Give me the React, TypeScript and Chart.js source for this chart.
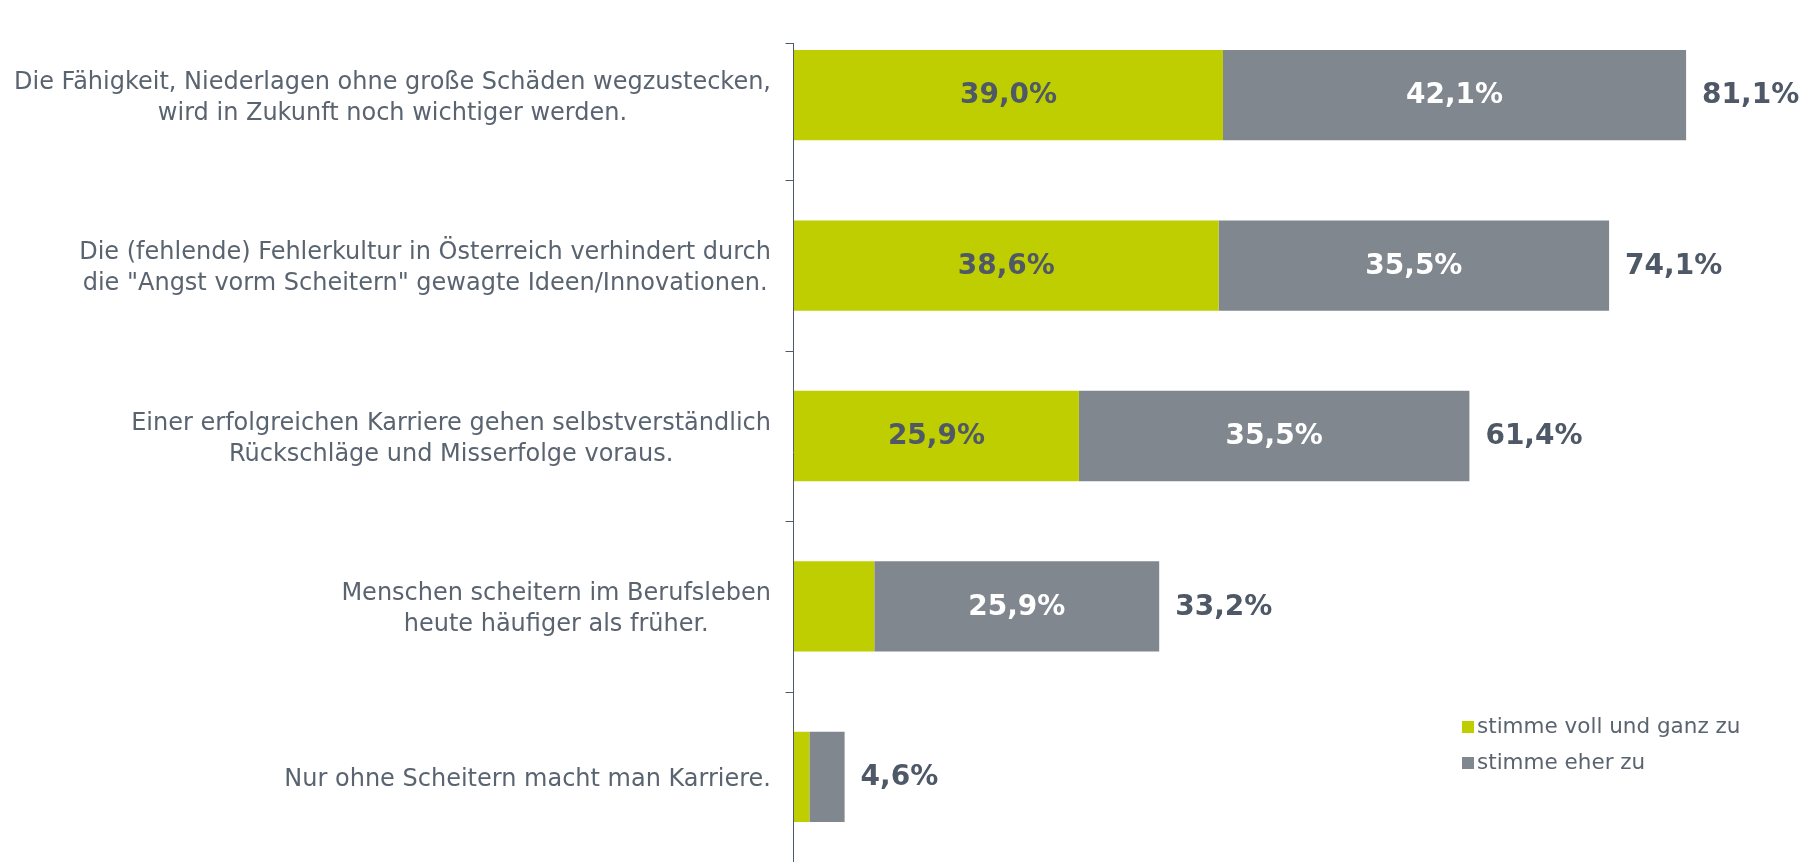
import React, { useEffect, useRef } from "react";
import { Chart, registerables } from "chart.js";

Chart.register(...registerables);

// ---- data ----
const categories: string[][] = [
  ["Die Fähigkeit, Niederlagen ohne große Schäden wegzustecken,", "wird in Zukunft noch wichtiger werden."],
  ["Die (fehlende) Fehlerkultur in Österreich verhindert durch", "die \"Angst vorm Scheitern\" gewagte Ideen/Innovationen."],
  ["Einer erfolgreichen Karriere gehen selbstverständlich", "Rückschläge und Misserfolge voraus."],
  ["Menschen scheitern im Berufsleben", "heute häufiger als früher."],
  ["Nur ohne Scheitern macht man Karriere."],
];
const seriesNames = ["stimme voll und ganz zu", "stimme eher zu"];
const fullyAgree = [39.0, 38.6, 25.9, 7.3, 1.4];
const ratherAgree = [42.1, 35.5, 35.5, 25.9, 3.2];
const totals = [81.1, 74.1, 61.4, 33.2, 4.6];

// ---- style ----
const GREEN = "#bfce00";
const GREY = "#80878f";
const TEXT = "#5a6470";
const DARK = "#4e5866";
const AXIS = "#4f5b6b";
const FONT = "'DejaVu Sans', Verdana, sans-serif";
const W = 1817;
const H = 862;

const fmt = (v: number) => v.toFixed(1).replace(".", ",") + "%";

const overlay = {
  id: "overlay",
  afterDatasetsDraw(chart: any) {
    const { ctx, chartArea, scales } = chart;
    const y = scales.y;
    ctx.save();

    // axis line + ticks
    const ax = Math.round(chartArea.left) - 0.5;
    const axisTop = 43;
    ctx.strokeStyle = AXIS;
    ctx.lineWidth = 1;
    ctx.beginPath();
    ctx.moveTo(ax, axisTop);
    ctx.lineTo(ax, H);
    ctx.moveTo(ax - 8, axisTop + 0.5);
    ctx.lineTo(ax, axisTop + 0.5);
    for (let i = 0; i < categories.length - 1; i++) {
      const b = Math.round((y.getPixelForValue(i) + y.getPixelForValue(i + 1)) / 2) + 0.5;
      ctx.moveTo(ax - 8, b);
      ctx.lineTo(ax, b);
    }
    ctx.stroke();

    // category labels: block right-aligned, lines centered
    ctx.font = `24px ${FONT}`;
    ctx.fillStyle = TEXT;
    ctx.textBaseline = "middle";
    ctx.textAlign = "center";
    const lh = 31;
    const rightEdge = chartArea.left - 23;
    categories.forEach((lines, i) => {
      const cy = y.getPixelForValue(i) + 3;
      const bw = Math.max(...lines.map((l) => ctx.measureText(l).width));
      const cx = rightEdge - bw / 2;
      lines.forEach((l, j) => {
        ctx.fillText(l, cx, cy + (j - (lines.length - 1) / 2) * lh);
      });
    });

    // segment labels
    ctx.font = `bold 28px ${FONT}`;
    ctx.textAlign = "center";
    const colors = [DARK, "#ffffff"];
    chart.data.datasets.forEach((ds: any, di: number) => {
      const meta = chart.getDatasetMeta(di);
      meta.data.forEach((el: any, i: number) => {
        const v = ds.data[i];
        if (v < 10) return;
        ctx.fillStyle = colors[di];
        ctx.fillText(fmt(v), (el.x + el.base) / 2, el.y + 1);
      });
    });

    // totals
    ctx.textAlign = "left";
    ctx.fillStyle = DARK;
    const lastMeta = chart.getDatasetMeta(chart.data.datasets.length - 1);
    lastMeta.data.forEach((el: any, i: number) => {
      ctx.fillText(fmt(totals[i]), el.x + 16, el.y + 1);
    });

    // legend
    ctx.font = `21.5px ${FONT}`;
    ctx.textAlign = "left";
    const lx = 1462;
    const ly = [727, 763];
    [GREEN, GREY].forEach((c, i) => {
      ctx.fillStyle = c;
      ctx.fillRect(lx, ly[i] - 6, 12, 12);
      ctx.fillStyle = TEXT;
      ctx.fillText(seriesNames[i], lx + 15, ly[i]);
    });

    ctx.restore();
  },
};

export default function App() {
  const ref = useRef<HTMLCanvasElement | null>(null);
  useEffect(() => {
    if (!ref.current) return;
    const chart = new Chart(ref.current, {
      type: "bar",
      data: {
        labels: categories.map((c) => c.join(" ")),
        datasets: [
          { label: seriesNames[0], data: fullyAgree, backgroundColor: GREEN, borderWidth: 0 },
          { label: seriesNames[1], data: ratherAgree, backgroundColor: GREY, borderWidth: 0 },
        ],
      },
      options: {
        indexAxis: "y",
        responsive: false,
        animation: false,
        layout: { padding: { left: 794, right: 33, top: 10, bottom: 0 } },
        datasets: { bar: { categoryPercentage: 1, barPercentage: 0.53 } },
        scales: {
          x: { stacked: true, display: false, min: 0, max: 90 },
          y: { stacked: true, display: false },
        },
        plugins: { legend: { display: false }, tooltip: { enabled: false } },
      },
      plugins: [overlay],
    });
    return () => chart.destroy();
  }, []);
  return (
    <div style={{ position: "fixed", left: 0, top: 0, width: W, height: H, background: "#fff" }}>
      <canvas ref={ref} width={W} height={H} style={{ display: "block" }} />
    </div>
  );
}
